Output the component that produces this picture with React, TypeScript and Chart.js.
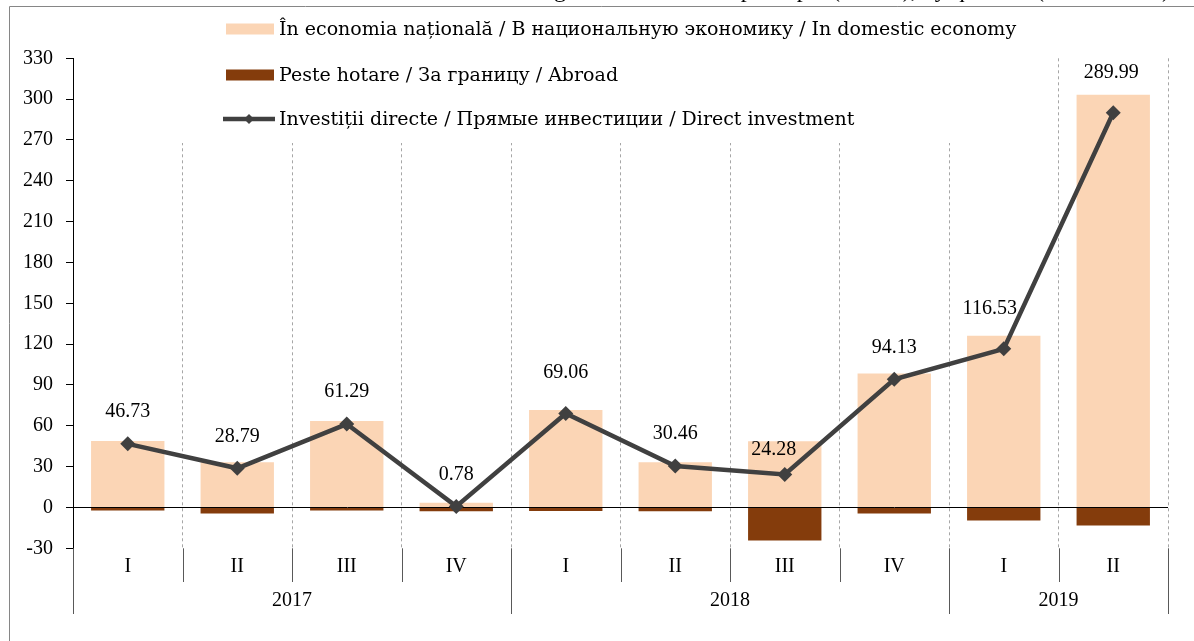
import React, { useEffect, useRef } from "react";
import { Chart, registerables } from "chart.js";

Chart.register(...registerables);

const quarters = ["I", "II", "III", "IV", "I", "II", "III", "IV", "I", "II"];
const years = ["2017", "2017", "2017", "2017", "2018", "2018", "2018", "2018", "2019", "2019"];
const domestic = [48.9, 33.2, 63.5, 3.5, 71.7, 33.3, 48.6, 98.5, 126.1, 303.2];
const abroad = [-2.2, -4.4, -2.2, -2.7, -2.6, -2.85, -24.3, -4.4, -9.6, -13.2];
const direct = [46.73, 28.79, 61.29, 0.78, 69.06, 30.46, 24.28, 94.13, 116.53, 289.99];
const yMin = -30;
const yMax = 330;
const yStep = 30;

const legendLabels = [
  "În economia națională / В национальную экономику / In domestic economy",
  "Peste hotare / За границу / Abroad",
  "Investiții directe / Прямые инвестиции / Direct investment",
];
const titleText =
  "Net direct investment flows according to the directional principle (BPM6), by quarters (US$ million)";

const FONT = "'Liberation Serif', 'Times New Roman', serif";
const LEGEND_FONT = "'DejaVu Serif', 'Liberation Serif', serif";
const C_DOM = "#FBD5B5";
const C_ABR = "#843C0C";
const C_LINE = "#404040";

// manual placement of the value labels (label centre relative to the point)
const labelNudge: Record<number, [number, number]> = {
  4: [0, -41],
  6: [-11, -25],
  8: [-14, -40],
  9: [-2, -40],
};

const customPlugin = {
  id: "customDecor",
  beforeDatasetsDraw(chart: any) {
    const ctx = chart.ctx;
    ctx.save();
    ctx.fillStyle = "#ffffff";
    ctx.fillRect(75, 40, 945, 103);
    ctx.restore();
  },
  afterDraw(chart: any) {
    const ctx = chart.ctx;
    const area = chart.chartArea;
    const xs = chart.scales.x;
    const n = quarters.length;
    ctx.save();

    // title (mostly outside the picture)
    ctx.font = `24px ${FONT}`;
    ctx.fillStyle = "#000";
    ctx.textAlign = "right";
    ctx.textBaseline = "alphabetic";
    ctx.fillText(titleText, 1170, -3);

    // frame
    ctx.strokeStyle = "#868686";
    ctx.lineWidth = 1;
    ctx.beginPath();
    ctx.moveTo(9.5, 641);
    ctx.lineTo(9.5, 6.5);
    ctx.lineTo(1194, 6.5);
    ctx.stroke();

    // legend
    const rows = [29, 75, 119];
    ctx.font = `19px ${LEGEND_FONT}`;
    ctx.textAlign = "left";
    ctx.textBaseline = "middle";
    ctx.fillStyle = C_DOM;
    ctx.fillRect(226, rows[0] - 5.5, 48, 11);
    ctx.fillStyle = C_ABR;
    ctx.fillRect(226, rows[1] - 5.5, 48, 11);
    ctx.strokeStyle = C_LINE;
    ctx.lineWidth = 4.5;
    ctx.beginPath();
    ctx.moveTo(223, rows[2]);
    ctx.lineTo(275, rows[2]);
    ctx.stroke();
    ctx.fillStyle = C_LINE;
    ctx.beginPath();
    ctx.moveTo(249, rows[2] - 5);
    ctx.lineTo(254, rows[2]);
    ctx.lineTo(249, rows[2] + 5);
    ctx.lineTo(244, rows[2]);
    ctx.closePath();
    ctx.fill();
    ctx.fillStyle = "#000";
    legendLabels.forEach((t, i) => ctx.fillText(t, 279, rows[i] + 1));

    // category axis (multi-level)
    ctx.font = `20px ${FONT}`;
    const centers = quarters.map((_, i) => xs.getPixelForValue(i));
    const bounds: number[] = [area.left];
    for (let i = 1; i < n; i++) bounds.push((centers[i - 1] + centers[i]) / 2);
    bounds.push(area.right);
    ctx.strokeStyle = "#595959";
    ctx.lineWidth = 1;
    for (let i = 0; i <= n; i++) {
      const yearBreak = i === 0 || i === n || years[i] !== years[i - 1];
      const x = Math.round(bounds[i]) + 0.5;
      ctx.beginPath();
      ctx.moveTo(x, area.bottom);
      ctx.lineTo(x, yearBreak ? 614 : 582);
      ctx.stroke();
    }
    ctx.fillStyle = "#000";
    ctx.textAlign = "center";
    ctx.textBaseline = "middle";
    quarters.forEach((q, i) => ctx.fillText(q, centers[i], 567));
    let start = 0;
    for (let i = 1; i <= n; i++) {
      if (i === n || years[i] !== years[start]) {
        const cx = (bounds[start] + bounds[i]) / 2;
        ctx.fillText(years[start], cx, 601);
        start = i;
      }
    }

    // value labels
    const meta = chart.getDatasetMeta(2);
    meta.data.forEach((pt: any, i: number) => {
      const [dx, dy] = labelNudge[i] || [0, -32];
      ctx.fillText(direct[i].toFixed(2), pt.x + dx, pt.y + dy);
    });
    ctx.restore();
  },
};

export default function App() {
  const ref = useRef<HTMLCanvasElement>(null);
  useEffect(() => {
    if (!ref.current) return;
    const chart = new Chart(ref.current, {
      type: "bar",
      data: {
        labels: quarters.map((q, i) => `${q} ${years[i]}`),
        datasets: [
          {
            type: "bar",
            label: legendLabels[0],
            data: domestic,
            backgroundColor: C_DOM,
            borderWidth: 0,
            grouped: false,
            barPercentage: 0.67,
            categoryPercentage: 1,
            order: 3,
          } as any,
          {
            type: "bar",
            label: legendLabels[1],
            data: abroad,
            backgroundColor: C_ABR,
            borderWidth: 0,
            grouped: false,
            barPercentage: 0.67,
            categoryPercentage: 1,
            order: 2,
          } as any,
          {
            type: "line",
            label: legendLabels[2],
            data: direct,
            borderColor: C_LINE,
            borderWidth: 4.5,
            pointStyle: "rectRot",
            pointRadius: 7.5,
            pointBackgroundColor: C_LINE,
            pointBorderColor: C_LINE,
            pointBorderWidth: 0,
            tension: 0,
            order: 1,
          } as any,
        ],
      },
      options: {
        animation: false,
        responsive: false,
        devicePixelRatio: 1,
        layout: { padding: { left: 0, top: 58.3, right: 26, bottom: 92.7 } },
        plugins: {
          legend: { display: false },
          tooltip: { enabled: false },
          title: { display: false },
        },
        scales: {
          x: {
            type: "category",
            offset: true,
            grid: {
              offset: true,
              color: "#A6A6A6",
              lineWidth: 1,
              drawTicks: false,
            },
            border: { display: false, dash: [3, 3] },
            ticks: { display: false },
            afterFit: (s: any) => {
              s.height = 0;
            },
          },
          y: {
            min: yMin,
            max: yMax,
            ticks: {
              stepSize: yStep,
              color: "#000",
              padding: 13,
              font: { family: FONT, size: 20 },
            },
            grid: {
              color: (c: any) => (c.tick && c.tick.value === 0 ? "#000" : "rgba(0,0,0,0)"),
              tickColor: "#000",
              tickLength: 7,
              lineWidth: 1,
            },
            border: { display: true, color: "#000", width: 1 },
            afterFit: (s: any) => {
              s.width = 73;
            },
          },
        },
      },
      plugins: [customPlugin],
    });
    return () => chart.destroy();
  }, []);
  return (
    <div style={{ position: "fixed", left: 0, top: 0, width: 1194, height: 641, background: "#fff" }}>
      <canvas ref={ref} width={1194} height={641} style={{ display: "block" }} />
    </div>
  );
}
